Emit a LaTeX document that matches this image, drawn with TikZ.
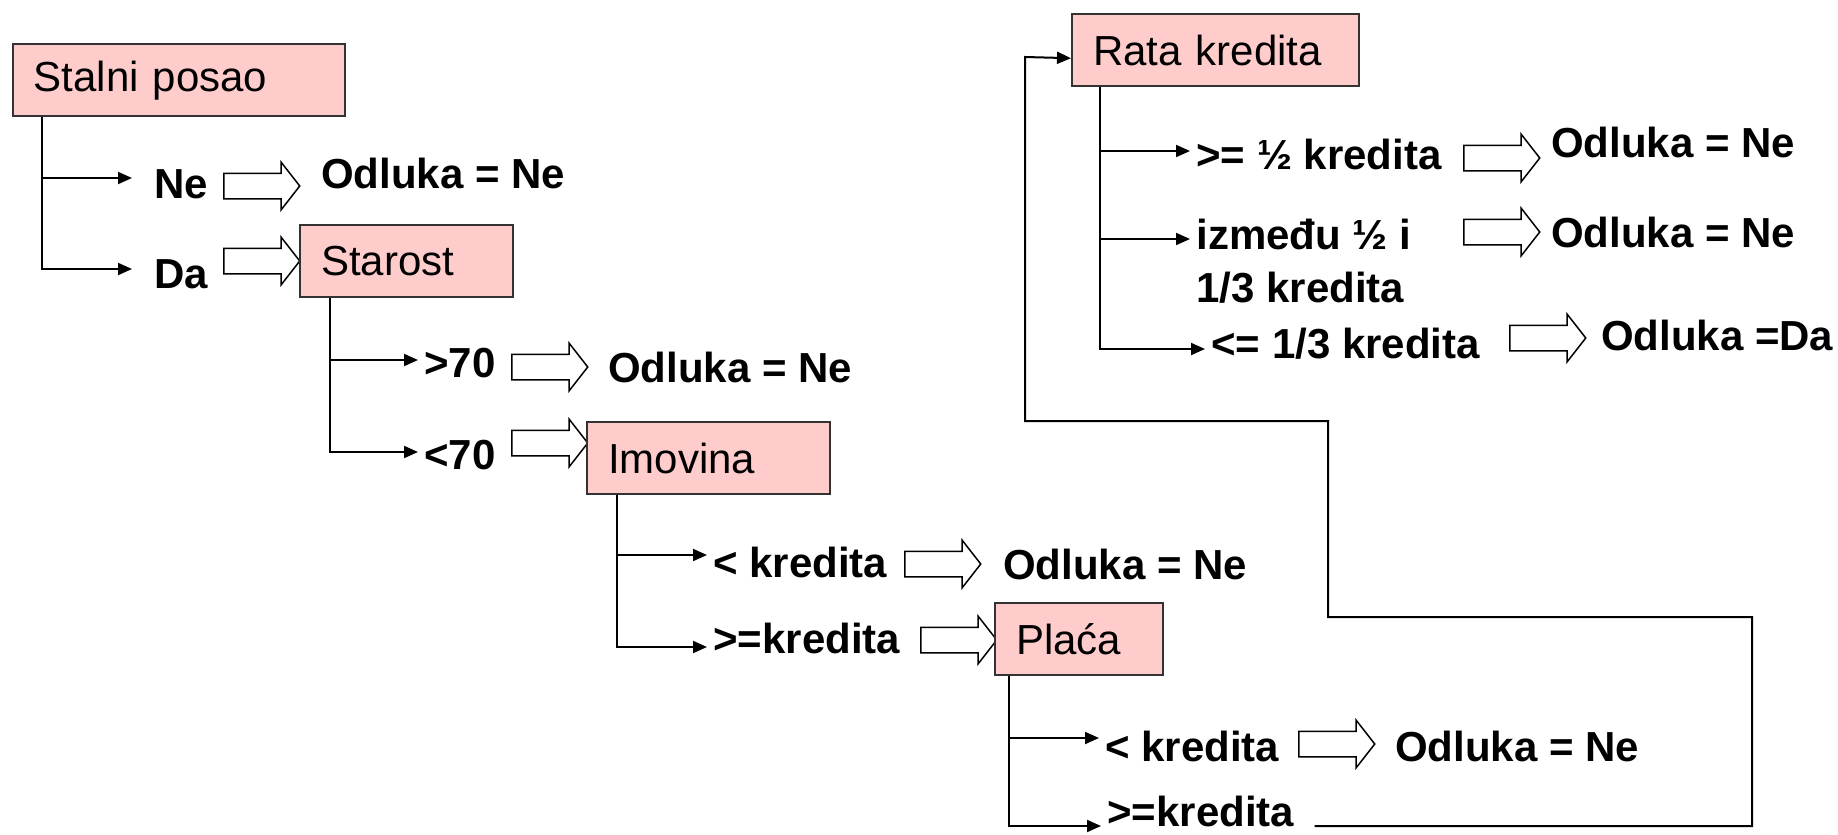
\documentclass[tikz,border=0pt]{standalone}
\usepackage{fontspec}
\setmainfont{Liberation Sans}
\usetikzlibrary{arrows.meta,positioning,shapes.arrows}

\begin{document}
\begin{tikzpicture}[
    x=0.5pt, y=-0.5pt,
    >={Triangle[length=7pt, width=6pt]},
    attr/.style={
        draw=black!80, line width=1.2pt, fill=red!20,
        anchor=north west, inner xsep=10.5pt, inner ysep=0pt,
        minimum height=36pt, align=left,
        font=\fontsize{21}{25}\selectfont
    },
    lbl/.style={
        anchor=west, inner sep=1pt, align=left,
        font=\fontsize{21}{26.5}\selectfont\bfseries
    },
    branch/.style={->, line width=1pt, shorten >=2pt},
    loopback/.style={->, line width=1pt},
    hollow/.style={
        single arrow, draw, line width=0.75pt, fill=white,
        anchor=tail, inner sep=0pt, text height=12pt, text depth=0pt,
        minimum height=38pt, single arrow head extend=5.5pt,
        single arrow tip angle=104
    },
]
\useasboundingbox (0,0) rectangle (1838,835);

% ── Stalni posao ──
\node[attr, text width=145.25pt] (stalni) at (11.5,43) {Stalni posao};
\node[lbl] (ne) at (152,184) {Ne};
\node[lbl] (da) at (152,274) {Da};
\draw[branch, shorten >=10pt] ([xshift=15.25pt]stalni.south west) |- ([yshift=3pt]ne.west);
\draw[branch, shorten >=10pt] ([xshift=15.25pt]stalni.south west) |- ([yshift=2.5pt]da.west);

\node[hollow] (h1) at (223,186) {};
\node[lbl, right=9pt of h1, yshift=6.5pt] (odl1) {Odluka = Ne};
\node[hollow] (h2) at (223,261) {};

% ── Starost ──
\node[attr, text width=85.5pt] (starost) at (299,224) {Starost};
\node[lbl] (gt70) at (422,363) {>70};
\node[lbl] (lt70) at (422,455) {<70};
\draw[branch] ([xshift=15.5pt]starost.south west) |- ([yshift=1.5pt]gt70.west);
\draw[branch] ([xshift=15.5pt]starost.south west) |- ([yshift=1.5pt]lt70.west);

\node[hollow] (h3) at (511,367) {};
\node[lbl, right=8.5pt of h3] (odl2) {Odluka = Ne};
\node[hollow] (h4) at (511,443) {};

% ── Imovina ──
\node[attr, text width=100.5pt] (imovina) at (586,421) {Imovina};
\node[lbl] (ilt) at (711,562) {< kredita};
\node[lbl] (ige) at (711,638) {>=kredita};
\draw[branch] ([xshift=15.5pt]imovina.south west) |- ([yshift=3.5pt]ilt.west);
\draw[branch] ([xshift=15.5pt]imovina.south west) |- ([yshift=-4.5pt]ige.west);

\node[hollow] (h5) at (904,564) {};
\node[lbl, right=9.5pt of h5] (odl3) {Odluka = Ne};
\node[hollow] (h6) at (920,640) {};

% ── Plaća ──
\node[attr, text width=63pt] (placa) at (994,602) {Plaća};
\node[lbl] (plt) at (1103,746) {< kredita};
\node[lbl] (pge) at (1105,811) {>=kredita};
\draw[branch] ([xshift=7.5pt]placa.south west) |- ([yshift=4pt]plt.west);
\draw[branch] ([xshift=7.5pt]placa.south west) |- ([yshift=-7.5pt]pge.west);

\node[hollow] (h7) at (1298,744) {};
\node[lbl, right=8.5pt of h7, yshift=-1pt] (odl4) {Odluka = Ne};

% ── Rata kredita ──
\node[attr, text width=122.5pt] (rata) at (1071,13) {Rata kredita};
\node[lbl] (rhalf) at (1194,154) {>= ½ kredita};
\node[lbl] (rmid) at (1194,261) {između ½ i\\1/3 kredita};
\node[lbl] (rthird) at (1209,344) {<= 1/3 kredita};
\draw[branch] ([xshift=14.5pt]rata.south west) |- ([yshift=1.5pt]rhalf.west);
\draw[branch] ([xshift=14.5pt]rata.south west) |- ([yshift=11pt]rmid.west);
\draw[branch] ([xshift=14.5pt]rata.south west) |- ([yshift=-2.5pt]rthird.west);

\node[hollow] (h8) at (1463,158) {};
\node[lbl, right=4pt of h8, yshift=8pt] (odl5) {Odluka = Ne};
\node[hollow] (h9) at (1463,232) {};
\node[lbl, right=4pt of h9] (odl6) {Odluka = Ne};
\node[hollow] (h10) at (1509,338) {};
\node[lbl, right=6pt of h10, yshift=1.5pt] (odl7) {Odluka =Da};

% ── back to Rata kredita ──
\draw[loopback] ([xshift=9pt, yshift=-7.5pt]pge.east) -| (1752,617) -| (1328,421)
    -| (1025,57) -- ([yshift=-4pt]rata.west);

\end{tikzpicture}
\end{document}
